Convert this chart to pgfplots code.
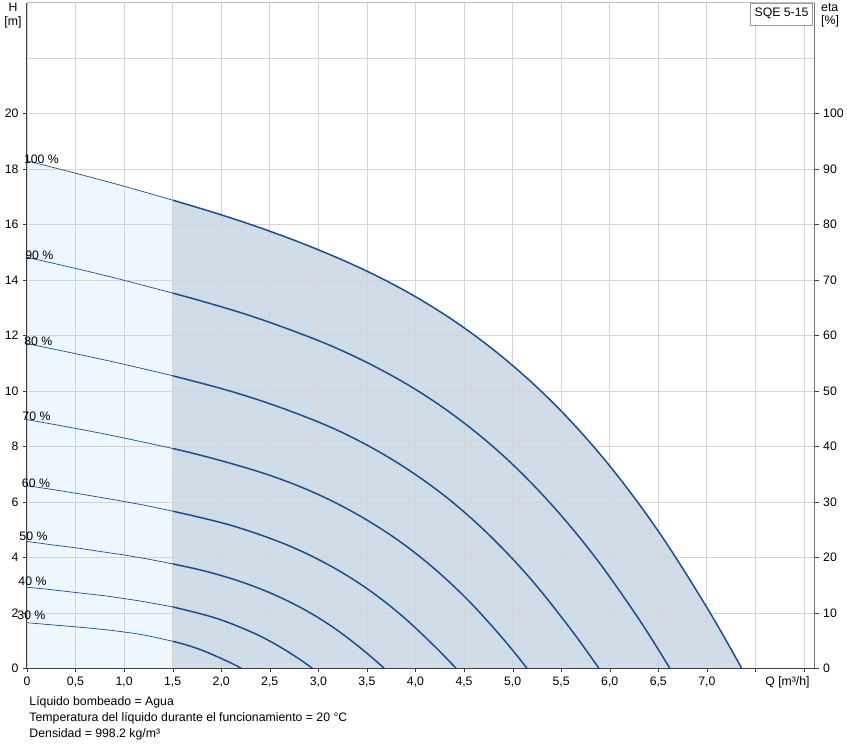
\documentclass[border=0pt]{standalone}
\usepackage{pgfplots}
\pgfplotsset{compat=1.18}
\usepackage{fontspec}
\setmainfont{Liberation Sans}
\definecolor{pumpblue}{RGB}{27,78,143}
\definecolor{fillA}{RGB}{238,246,254}
\definecolor{fillB}{RGB}{208,220,232}
\definecolor{gridc}{RGB}{212,212,212}

\begin{document}
\begin{tikzpicture}[font=\fontsize{12.3}{14.5}\selectfont]
\begin{axis}[
    at={(27pt,75pt)}, anchor=south west,
    scale only axis, width=789pt, height=667pt,
    xmin=0, xmax=8.11, ymin=0, ymax=24,
    axis lines*=left,
    set layers, clip=false,
    axis line style={black!75, line width=1pt},
    tick align=outside, major tick length=4pt,
    tick style={black!75},
    xtick={0,0.5,...,8},
    xticklabels={0,{0,5},{1,0},{1,5},{2,0},{2,5},{3,0},{3,5},{4,0},{4,5},{5,0},{5,5},{6,0},{6,5},{7,0},,},
    ytick={0,2,...,20},
    extra y ticks={22},
    extra y tick labels={},
    extra tick style={major tick length=0pt},
    grid=major,
    grid style={gridc, line width=0.8pt},
    /pgf/number format/assume math mode=true,
    xticklabel style={yshift=-1pt},
    yticklabel style={xshift=-1pt},
    thin curve/.style={pumpblue, line width=0.7pt, smooth},
    thick curve/.style={pumpblue, line width=1.5pt, smooth, tension=0.6},
]
% operating ranges
\addplot[fill=fillA, draw=none, on layer=axis background]
  coordinates {(0,0)(0,18.30)(0.5,17.85)(1.0,17.38)(1.5,16.88)(1.5,0)} -- cycle;
\addplot[fill=fillB, draw=none, on layer=axis background, smooth, tension=0.6]
  coordinates {(1.5,16.88)(2.0,16.35)(2.5,15.76)(3.0,15.09)(3.5,14.32)(4.0,13.40)(4.5,12.28)(5.0,10.92)(5.5,9.28)(6.0,7.30)(6.5,4.95)(7.0,2.20)(7.36,0)} \closedcycle;

% 100 %
\addplot[thin curve] coordinates {(0,18.30)(0.5,17.85)(1.0,17.38)(1.5,16.88)};
\addplot[thick curve] coordinates {(1.5,16.88)(2.0,16.35)(2.5,15.76)(3.0,15.09)(3.5,14.32)(4.0,13.40)(4.5,12.28)(5.0,10.92)(5.5,9.28)(6.0,7.30)(6.5,4.95)(7.0,2.20)(7.36,0)};
% 90 %
\addplot[thin curve] coordinates {(0,14.82)(0.45,14.46)(0.9,14.08)(1.5,13.53)};
\addplot[thick curve] coordinates {(1.5,13.53)(1.8,13.24)(2.25,12.77)(2.7,12.22)(3.15,11.60)(3.6,10.85)(4.05,9.95)(4.5,8.85)(4.95,7.52)(5.4,5.91)(5.85,4.01)(6.3,1.78)(6.62,0)};
% 80 %
\addplot[thin curve] coordinates {(0,11.71)(0.4,11.42)(0.8,11.12)(1.2,10.80)(1.5,10.55)};
\addplot[thick curve] coordinates {(1.5,10.55)(2.0,10.09)(2.4,9.66)(2.8,9.16)(3.2,8.58)(3.6,7.86)(4.0,6.99)(4.4,5.94)(4.8,4.67)(5.2,3.17)(5.6,1.41)(5.89,0)};
% 70 %
\addplot[thin curve] coordinates {(0,8.97)(0.35,8.75)(0.7,8.52)(1.05,8.27)(1.5,7.93)};
\addplot[thick curve] coordinates {(1.5,7.93)(1.75,7.72)(2.1,7.39)(2.45,7.02)(2.8,6.57)(3.15,6.02)(3.5,5.35)(3.85,4.55)(4.2,3.58)(4.55,2.43)(4.9,1.08)(5.15,0)};
% 60 %
\addplot[thin curve] coordinates {(0,6.59)(0.3,6.43)(0.6,6.26)(0.9,6.08)(1.2,5.89)(1.5,5.67)};
\addplot[thick curve] coordinates {(1.5,5.67)(1.8,5.43)(2.1,5.16)(2.4,4.82)(2.7,4.42)(3.0,3.93)(3.3,3.34)(3.6,2.63)(3.9,1.78)(4.2,0.79)(4.42,0)};
% 50 %
\addplot[thin curve] coordinates {(0,4.58)(0.25,4.46)(0.5,4.35)(0.75,4.22)(1.0,4.09)(1.25,3.94)(1.5,3.77)};
\addplot[thick curve] coordinates {(1.5,3.77)(1.75,3.58)(2.0,3.35)(2.25,3.07)(2.5,2.73)(2.75,2.32)(3.0,1.83)(3.25,1.24)(3.5,0.55)(3.68,0)};
% 40 %
\addplot[thin curve] coordinates {(0,2.93)(0.2,2.86)(0.4,2.78)(0.6,2.70)(0.8,2.62)(1.0,2.52)(1.2,2.41)(1.5,2.22)};
\addplot[thick curve] coordinates {(1.5,2.22)(1.8,1.96)(2.0,1.75)(2.2,1.48)(2.4,1.17)(2.6,0.79)(2.8,0.35)(2.94,0)};
% 30 %
\addplot[thin curve] coordinates {(0,1.65)(0.3,1.56)(0.6,1.47)(0.9,1.36)(1.2,1.21)(1.5,0.98)};
\addplot[thick curve] coordinates {(1.5,0.98)(1.65,0.84)(1.8,0.66)(1.95,0.44)(2.1,0.20)(2.21,0)};

% speed labels
\node at (axis cs:0.149,18.35) {100 \%};
\node at (axis cs:0.128,14.89) {90 \%};
\node at (axis cs:0.118,11.80) {80 \%};
\node at (axis cs:0.098,9.10) {70 \%};
\node at (axis cs:0.093,6.69) {60 \%};
\node at (axis cs:0.067,4.75) {50 \%};
\node at (axis cs:0.057,3.13) {40 \%};
\node at (axis cs:0.046,1.91) {30 \%};

\node[anchor=north, yshift=-5pt] at (axis cs:7.83,0) {Q [m³/h]};
\end{axis}

\begin{axis}[
    at={(27pt,75pt)}, anchor=south west,
    scale only axis, width=789pt, height=667pt,
    xmin=0, xmax=8.11, ymin=0, ymax=120,
    axis x line*=top, axis y line*=right,
    x axis line style={black!25, line width=0.8pt},
    y axis line style={black!55, line width=1pt},
    xtick=\empty,
    ytick={0,10,...,100},
    tick align=outside, major tick length=4pt,
    tick style={black!75},
    /pgf/number format/assume math mode=true,
    yticklabel style={xshift=1pt},
]
\addplot[draw=none] coordinates {(0,0)(8,100)};
\end{axis}

\node[align=center] at (13pt,729pt) {H\\[-1pt][m]};
\node[align=left, anchor=west] at (819pt,729pt) {eta\\[-1pt][\%]};
\node[draw=black!40, fill=white, anchor=north east, inner xsep=4pt,
      minimum height=22pt] at (814pt,742pt) {SQE 5-15};

\node[anchor=west] at (26pt,41pt) {Líquido bombeado = Agua};
\node[anchor=west] at (26pt,25pt) {Temperatura del líquido durante el funcionamiento = 20 °C};
\node[anchor=west] at (26pt,9pt) {Densidad = 998.2 kg/m³};
\path (0,0) (847pt,742pt);
\end{tikzpicture}
\end{document}
